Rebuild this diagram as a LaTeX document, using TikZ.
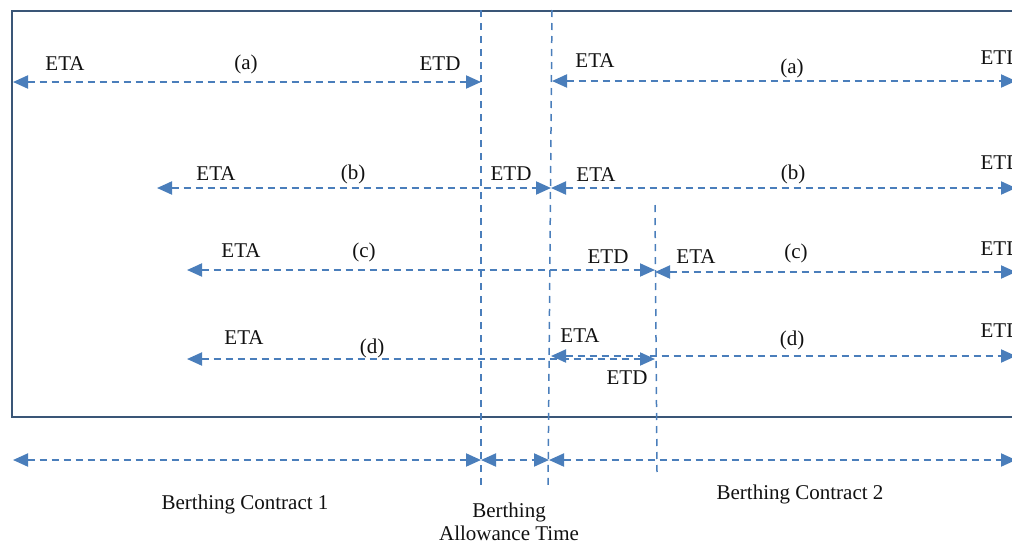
\documentclass[tikz,border=0pt]{standalone}
\usepackage{fontspec}
\setmainfont{Liberation Serif}
\usetikzlibrary{arrows.meta}
\definecolor{frameblue}{HTML}{3A5677}
\definecolor{lineblue}{HTML}{4A7EBB}
\definecolor{ink}{HTML}{111111}
\tikzset{
  box/.style={draw=frameblue, line width=2pt},
  span/.style={draw=lineblue, line width=2pt, dash pattern=on 7pt off 5pt,
    {Triangle[length=15pt,width=13pt]}-{Triangle[length=15pt,width=13pt]}},
  guide/.style={draw=lineblue, line width=1.5pt, dash pattern=on 7pt off 6pt},
  lab/.style={text=ink, font=\fontsize{21}{24}\selectfont, inner sep=0pt},
  labc/.style={lab, align=center, font=\fontsize{21}{23}\selectfont},
}

\begin{document}
\begin{tikzpicture}[x=1pt,y=-1pt]
  \useasboundingbox (0,0) rectangle (1012,544);
  % frame (right side runs off the page)
  \draw[box] (12,11) rectangle (1030,417);

  % guide lines
  \coordinate (g1t) at (481,10);  \coordinate (g1b) at (481,490);
  \coordinate (g2t) at (552,10);  \coordinate (g2b) at (548,490);
  \coordinate (g3t) at (655,205); \coordinate (g3b) at (657,472);
  \draw[guide] (g1t) -- (g1b);
  \draw[guide] (g2t) -- (g2b);
  \draw[guide] (g3t) -- (g3b);

  % row (a)
  \coordinate (a0) at (13,82);   \coordinate (a1) at (481,82);
  \coordinate (a2) at (552,81);  \coordinate (a3) at (1016,81);
  \draw[span] (a0) -- (a1);
  \draw[span] (a2) -- (a3);
  \node[lab] (etaA1) at (65,64) {ETA};
  \node[lab] (lblA1) at (246,64) {(a)};
  \node[lab] (etdA1) at (440,64) {ETD};
  \node[lab] (etaA2) at (595,61) {ETA};
  \node[lab] (lblA2) at (792,68) {(a)};
  \node[lab] (etdA2) at (1001,58) {ETD};

  % row (b)
  \coordinate (b0) at (157,188); \coordinate (b1) at (551,188);
  \coordinate (b3) at (1016,188);
  \draw[span] (b0) -- (b1);
  \draw[span] (b1) -- (b3);
  \node[lab] (etaB1) at (216,174) {ETA};
  \node[lab] (lblB1) at (353,174) {(b)};
  \node[lab] (etdB1) at (511,174) {ETD};
  \node[lab] (etaB2) at (596,175) {ETA};
  \node[lab] (lblB2) at (793,174) {(b)};
  \node[lab] (etdB2) at (1001,163) {ETD};

  % row (c)
  \coordinate (c0) at (187,270); \coordinate (c1) at (655,270);
  \coordinate (c2) at (655,272); \coordinate (c3) at (1016,272);
  \draw[span] (c0) -- (c1);
  \draw[span] (c2) -- (c3);
  \node[lab] (etaC1) at (241,251) {ETA};
  \node[lab] (lblC1) at (364,252) {(c)};
  \node[lab] (etdC1) at (608,257) {ETD};
  \node[lab] (etaC2) at (696,257) {ETA};
  \node[lab] (lblC2) at (796,253) {(c)};
  \node[lab] (etdC2) at (1001,249) {ETD};

  % row (d)
  \coordinate (d0) at (187,359); \coordinate (d1) at (655,359);
  \coordinate (d2) at (551,356); \coordinate (d3) at (1016,356);
  \draw[span] (d0) -- (d1);
  \draw[span] (d2) -- (d3);
  \node[lab] (etaD1) at (244,338) {ETA};
  \node[lab] (lblD1) at (372,348) {(d)};
  \node[lab] (etaD2) at (580,336) {ETA};
  \node[lab] (etdD1) at (627,378) {ETD};
  \node[lab] (lblD2) at (792,340) {(d)};
  \node[lab] (etdD2) at (1001,331) {ETD};

  % contracts
  \coordinate (k0) at (13,460);  \coordinate (k1) at (481,460);
  \coordinate (k2) at (549,460); \coordinate (k3) at (1016,460);
  \draw[span] (k0) -- (k1);
  \draw[span] (k1) -- (k2);
  \draw[span] (k2) -- (k3);
  \node[lab] (bc1) at (245,504) {Berthing Contract 1};
  \node[labc] (bat) at (509,522) {Berthing\\Allowance Time};
  \node[lab] (bc2) at (800,494) {Berthing Contract 2};
\end{tikzpicture}
\end{document}
